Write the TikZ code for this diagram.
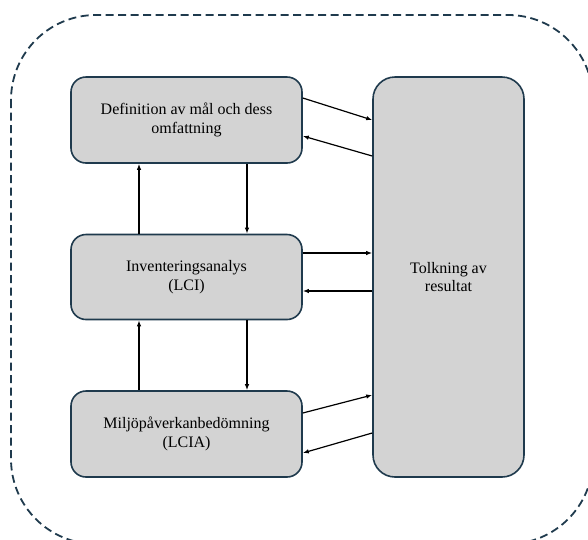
\documentclass[tikz,border=0pt]{standalone}
\usepackage{fontspec}
\setmainfont{Liberation Serif}
\usetikzlibrary{arrows.meta}
\definecolor{ramfarg}{HTML}{1F3A4D}
\definecolor{boxgra}{HTML}{D3D3D3}

\begin{document}
\begin{tikzpicture}[x=1pt,y=-1pt,
    fas/.style={draw=ramfarg,line width=1.6pt,fill=boxgra,rounded corners=15pt,
      align=center,font=\fontsize{16}{18.5}\selectfont,inner sep=0pt},
    pil/.style={-{Latex[length=6pt,width=4.5pt]},line width=1.2pt}]
  \useasboundingbox (0,0) rectangle (588,539);
  \begin{scope}
    \clip (0,0) rectangle (588,539);
    \draw[ramfarg,line width=1.8pt,dash pattern=on 8pt off 4.5pt,rounded corners=85pt]
      (11,15) rectangle (593,544);
  \end{scope}
  \node[fas,minimum width=231pt,minimum height=86pt] (def) at (186.5,120) {Definition av mål och dess\\omfattning};
  \node[fas,minimum width=231pt,minimum height=85pt] (inv) at (186.5,277) {Inventeringsanalys\\(LCI)};
  \node[fas,minimum width=231pt,minimum height=86pt] (mil) at (186.5,434) {Miljöpåverkanbedömning\\(LCIA)};
  \node[fas,rounded corners=22pt,minimum width=151pt,minimum height=400pt] (tolk) at (448.5,277) {Tolkning av\\resultat};
  % pilar till och från tolkningen
  \draw[pil] ([yshift=22pt]def.east) -- ([yshift=157pt]tolk.west);
  \draw[pil] ([yshift=121pt]tolk.west) -- ([yshift=-16pt]def.east);
  \draw[pil] ([yshift=24pt]inv.east) -- ([yshift=24pt]tolk.west);
  \draw[pil] ([yshift=-14pt]tolk.west) -- ([yshift=-14pt]inv.east);
  \draw[pil] ([yshift=21pt]mil.east) -- ([yshift=-118pt]tolk.west);
  \draw[pil] ([yshift=-156pt]tolk.west) -- ([yshift=-19pt]mil.east);
  % pilar mellan stegen
  \draw[pil] ([xshift=-47.5pt]inv.north) -- ([xshift=-47.5pt]def.south);
  \draw[pil] ([xshift=60.5pt]def.south) -- ([xshift=60.5pt]inv.north);
  \draw[pil] ([xshift=-47.5pt]mil.north) -- ([xshift=-47.5pt]inv.south);
  \draw[pil] ([xshift=60.5pt]inv.south) -- ([xshift=60.5pt]mil.north);
\end{tikzpicture}
\end{document}
